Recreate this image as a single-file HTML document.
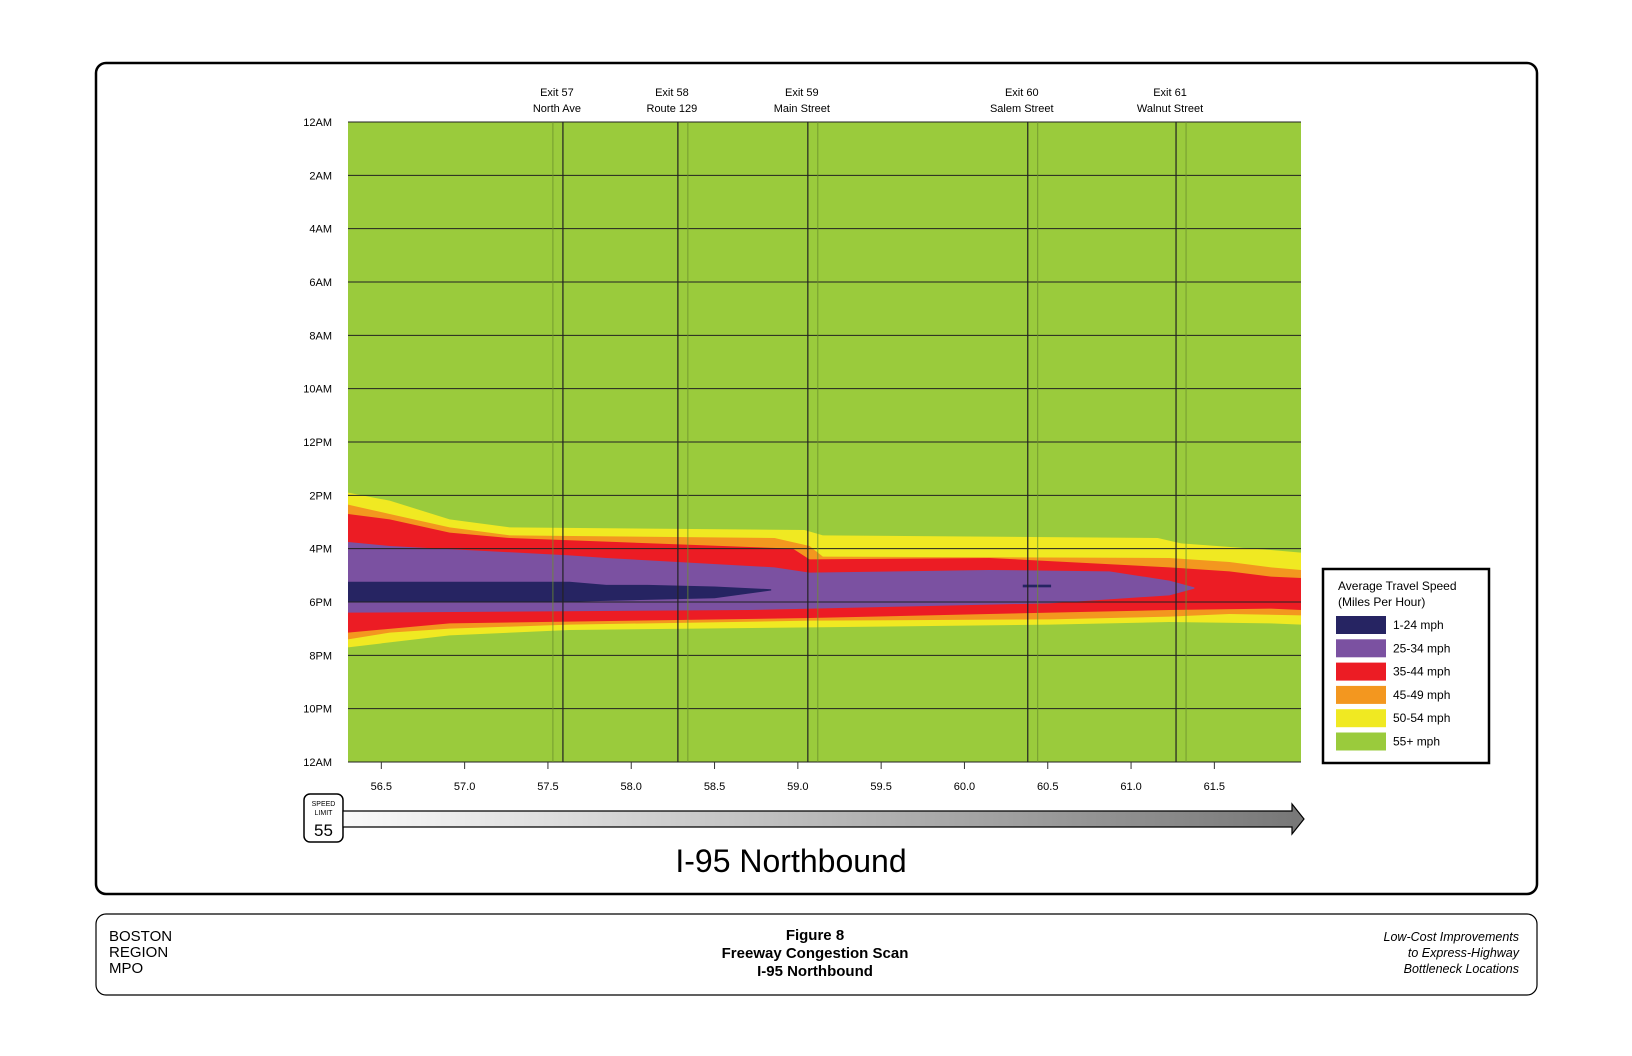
<!DOCTYPE html>
<html><head><meta charset="utf-8"><style>
html,body{margin:0;padding:0;background:#fff;}
body{width:1632px;height:1056px;position:relative;overflow:hidden;font-family:"Liberation Sans",sans-serif;}
svg{position:absolute;left:0;top:0;}
</style></head><body>
<svg width="1632" height="1056">
<rect x="96" y="63" width="1441" height="831" rx="10" fill="none" stroke="#000" stroke-width="2.5"/>
<g id="plot"></g>
<g id="axes"></g>
<g>
<rect x="1323" y="569" width="166" height="194" fill="#fff" stroke="#000" stroke-width="2.5"/>
<text x="1338" y="590" font-size="12">Average Travel Speed</text>
<text x="1338" y="606" font-size="12">(Miles Per Hour)</text>
<g id="legendItems"></g>
</g>
<g>
<rect x="304" y="794" width="39" height="48" rx="6" fill="#fff" stroke="#000" stroke-width="1.5"/>
<text x="323.5" y="806" font-size="7" text-anchor="middle">SPEED</text>
<text x="323.5" y="815" font-size="7" text-anchor="middle">LIMIT</text>
<text x="323.5" y="836" font-size="17" text-anchor="middle">55</text>
</g>
<defs><linearGradient id="ag" x1="0" x2="1"><stop offset="0" stop-color="#fafafa"/><stop offset="1" stop-color="#777"/></linearGradient></defs>
<path d="M343,811 L1292,811 L1292,804 L1304,819 L1292,834 L1292,827 L343,827 Z" fill="url(#ag)" stroke="#000" stroke-width="1.2"/>
<text x="791" y="872" font-size="32" text-anchor="middle">I-95 Northbound</text>
<rect x="96" y="914" width="1441" height="81" rx="10" fill="none" stroke="#000" stroke-width="1.2"/>
<g font-size="15">
<text x="109" y="941">BOSTON</text><text x="109" y="957">REGION</text><text x="109" y="973">MPO</text></g>
<g font-size="15" font-weight="bold" text-anchor="middle">
<text x="815" y="940">Figure 8</text><text x="815" y="958">Freeway Congestion Scan</text><text x="815" y="976">I-95 Northbound</text></g>
<g font-size="12.5" font-style="italic" text-anchor="end">
<text x="1519" y="941">Low-Cost Improvements</text><text x="1519" y="957">to Express-Highway</text><text x="1519" y="973">Bottleneck Locations</text></g>
</svg>
<script>
const hourLabels=["12AM","2AM","4AM","6AM","8AM","10AM","12PM","2PM","4PM","6PM","8PM","10PM","12AM"];
const mileTicks=[56.5,57.0,57.5,58.0,58.5,59.0,59.5,60.0,60.5,61.0,61.5];
const exitNames=["Exit 57","Exit 58","Exit 59","Exit 60","Exit 61"];
const exitStreets=["North Ave","Route 129","Main Street","Salem Street","Walnut Street"];
const exitMiles=[57.59,58.28,59.06,60.38,61.27];
const exitFaintSide=[-1,1,1,1,1];
const legendLabels=["1-24 mph","25-34 mph","35-44 mph","45-49 mph","50-54 mph","55+ mph"];
const legendColors=["#262462","#7b51a1","#ec1c24","#f3971f","#f0e922","#9acb3c"];
// congestion layers: [mile, hour]
const yellowTop=[[56.3,13.9],[56.55,14.2],[56.91,14.9],[57.27,15.2],[59.04,15.3],[59.15,15.5],[61.16,15.6],[61.3,15.8],[61.84,16.05],[62.02,16.15]];
const yellowBot=[[56.3,19.7],[56.91,19.25],[57.63,19.05],[59.07,18.95],[60.51,18.85],[61.23,18.75],[61.84,18.8],[62.02,18.85]];
const orangeTop=[[56.3,14.35],[56.55,14.7],[56.91,15.2],[57.27,15.5],[58.86,15.6],[59.07,15.9],[59.15,16.3],[61.23,16.35],[61.59,16.5],[61.84,16.7],[62.02,16.8]];
const orangeBot=[[56.3,19.4],[56.55,19.15],[56.91,19.0],[57.63,18.85],[59.07,18.7],[60.51,18.65],[61.23,18.55],[61.59,18.45],[62.02,18.5]];
const redTop=[[56.3,14.7],[56.55,14.9],[56.91,15.4],[57.27,15.6],[58.97,16.0],[59.07,16.4],[60.15,16.35],[61.23,16.7],[61.59,16.85],[61.84,17.05],[62.02,17.1]];
const redBot=[[56.3,19.15],[56.91,18.8],[59.07,18.6],[61.23,18.3],[61.84,18.25],[62.02,18.3]];
const purpleTop=[[56.3,15.75],[56.55,15.9],[57.63,16.25],[57.85,16.35],[58.86,16.7],[59.07,16.9],[60.15,16.8],[60.87,16.85],[61.23,17.2],[61.38,17.45]];
const purpleBot=[[56.3,18.4],[58.71,18.3],[60.51,18.05],[61.23,17.75],[61.38,17.5]];
const navyTop=[[56.3,17.24],[57.63,17.24],[57.85,17.36],[58.10,17.36],[58.5,17.42],[58.84,17.52]];
const navyBot=[[56.3,17.99],[57.63,17.99],[58.5,17.86],[58.84,17.57]];
const navySpot=[[60.35,17.35],[60.52,17.45]];

const NS="http://www.w3.org/2000/svg";
const X0=348,X1=1301,Y0=122,Y1=762,M0=56.30,M1=62.02;
const xs=m=>X0+(m-M0)/(M1-M0)*(X1-X0);
const ys=h=>Y0+h/24*(Y1-Y0);
function mk(tag,attrs,parent){const e=document.createElementNS(NS,tag);for(const k in attrs)e.setAttribute(k,attrs[k]);parent.appendChild(e);return e;}
const plot=document.getElementById('plot'),axes=document.getElementById('axes');
const bg=mk('rect',{x:X0,y:Y0,width:X1-X0,height:Y1-Y0,fill:'#9acb3c'},plot);


function layer(top,bot,color,name){
  const pts=top.map(p=>xs(p[0])+','+ys(p[1])).concat(bot.slice().reverse().map(p=>xs(p[0])+','+ys(p[1])));
  const e=mk('polygon',{points:pts.join(' '),fill:color},plot);
  
  
}
layer(yellowTop,yellowBot,'#f0e922','speed-50-54-area');
layer(orangeTop,orangeBot,'#f3971f','speed-45-49-area');
layer(redTop,redBot,'#ec1c24','speed-35-44-area');
layer(purpleTop,purpleBot,'#7b51a1','speed-25-34-area');
layer(navyTop,navyBot,'#262462','speed-1-24-area');
const sp=mk('rect',{x:xs(navySpot[0][0]),y:ys(navySpot[0][1]),width:xs(navySpot[1][0])-xs(navySpot[0][0]),height:ys(navySpot[1][1])-ys(navySpot[0][1]),fill:'#262462'},plot);


hourLabels.forEach((l,i)=>{
  const y=ys(i*2);
  const g=mk('line',{x1:X0,x2:X1,y1:y,y2:y,stroke:'#222','stroke-width':1},axes);
  
  
  const t=mk('text',{x:332,y:y+4,'font-size':11,'text-anchor':'end'},axes);
  t.textContent=l;
  
  
});
exitMiles.forEach((m,i)=>{
  const x=xs(m);
  const a=mk('line',{x1:x,x2:x,y1:Y0,y2:Y1,stroke:'#222','stroke-width':1.2},axes);
  
  
  const fx=x+exitFaintSide[i]*10;
  const b=mk('line',{x1:fx,x2:fx,y1:Y0,y2:Y1,stroke:'#6b8f2c','stroke-width':0.8},axes);
  
  
  const t1=mk('text',{x:x-6,y:96,'font-size':11,'text-anchor':'middle'},axes);
  t1.textContent=exitNames[i];
  
  
  const t2=mk('text',{x:x-6,y:112,'font-size':11,'text-anchor':'middle'},axes);
  t2.textContent=exitStreets[i];
  
  
});
mileTicks.forEach(m=>{
  const x=xs(m);
  const tk=mk('line',{x1:x,x2:x,y1:Y1,y2:Y1+7,stroke:'#333','stroke-width':1},axes);
  
  
  const t=mk('text',{x:x,y:790,'font-size':11,'text-anchor':'middle'},axes);
  t.textContent=m.toFixed(1);
  
  
});
const li=document.getElementById('legendItems');
legendLabels.forEach((l,i)=>{
  const cy=625+i*23.3;
  const r=mk('rect',{x:1336,y:cy-9,width:50,height:18,fill:legendColors[i]},li);
  
  
  const t=mk('text',{x:1393,y:cy+4,'font-size':12},li);
  t.textContent=l;
  
  
});
</script>
</body></html>
